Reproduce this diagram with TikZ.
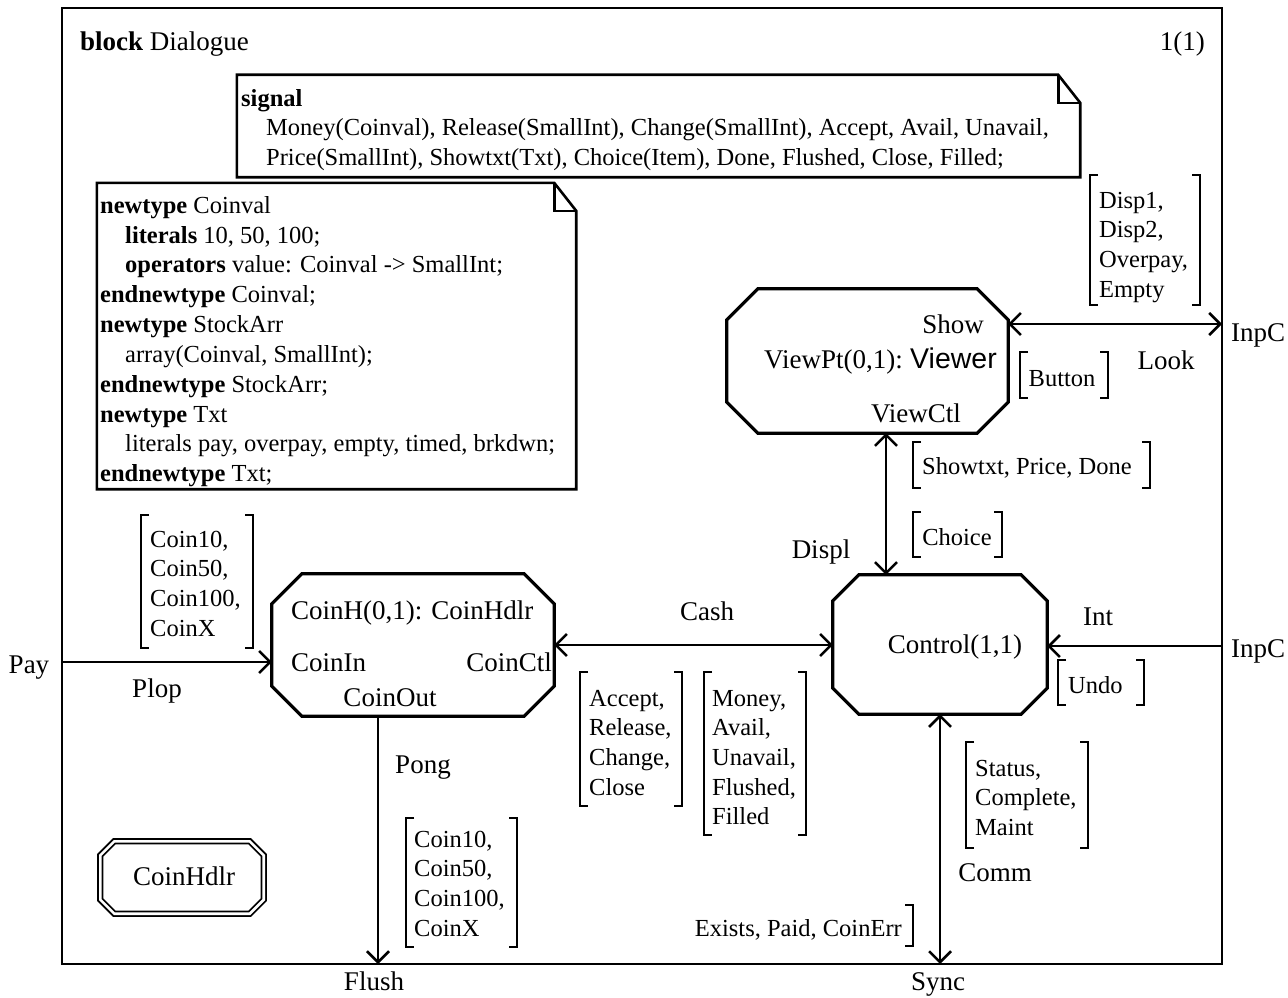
\documentclass[tikz,border=0pt]{standalone}
\usepackage{fontspec}
\setmainfont{Liberation Serif}
\newfontfamily\viewerfont{Liberation Sans}
\usetikzlibrary{arrows.meta,calc}

\tikzset{
  big/.style={font=\fontsize{27}{32}\selectfont, inner sep=0pt, text height=17.9pt, text depth=0pt},
  small/.style={font=\fontsize{24.5}{30}\selectfont, inner sep=0pt, text height=16.2pt, text depth=0pt},
  frameline/.style={line width=2.5pt},
  blockline/.style={line width=3.2pt, line join=miter},
  noteline/.style={line width=2.6pt},
  chan/.style={line width=2.5pt, >={Straight Barb[length=11pt,width=22pt,line width=2.5pt]}},
  brk/.style={line width=2.5pt},
  area/.style={draw=none, inner sep=0pt, rectangle},
}

% octagonal SDL block outline around a node: node, corner cut, style
\newcommand\sdloctagon[3]{%
  \draw[#3] ($(#1.north west)+(#2,0)$) -- ($(#1.north east)+(-#2,0)$)
    -- ($(#1.north east)+(0,#2)$) -- ($(#1.south east)+(0,-#2)$)
    -- ($(#1.south east)+(-#2,0)$) -- ($(#1.south west)+(#2,0)$)
    -- ($(#1.south west)+(0,-#2)$) -- ($(#1.north west)+(0,#2)$) -- cycle;}
% text symbol with a folded corner
\newcommand\sdlnote[1]{%
  \draw[noteline] (#1.north west) -- ($(#1.north east)+(-22,0)$)
    -- ($(#1.north east)+(0,28)$) -- (#1.south east) -- (#1.south west) -- cycle;
  \draw[noteline] ($(#1.north east)+(-22,0)$) -- ($(#1.north east)+(-22,28)$)
    -- ($(#1.north east)+(0,28)$);}
% signal list brackets: left x, top y, right x, bottom y
\newcommand\sdlLbr[3]{\draw[brk] ({#1+8},#2) -- (#1,#2) -- (#1,#3) -- ({#1+8},#3);}
\newcommand\sdlRbr[3]{\draw[brk] ({#1-8},#2) -- (#1,#2) -- (#1,#3) -- ({#1-8},#3);}
\newcommand\sdlbrackets[4]{\sdlLbr{#1}{#2}{#4}\sdlRbr{#3}{#2}{#4}}
% stacked signal names: name prefix, x, first line y, lines
\newcommand\sdllines[4]{%
  \foreach \t [count=\i] in {#4}
    \node[small,anchor=west] (#1\i) at (#2,{#3+29.7*(\i-1)}) {\t};}

\begin{document}
\begin{tikzpicture}[x=1pt,y=-1pt]
\useasboundingbox (0,0) rectangle (1288,998);
\fill[white] (0,0) rectangle (1288,998);

% block frame
\node[area, minimum width=1160pt, minimum height=956pt] (frame) at (642,486) {};
\draw[frameline] (frame.north west) rectangle (frame.south east);
\node[big,anchor=west] (title) at (80,42) {\textbf{block} Dialogue};
\node[big,anchor=east] (page) at (1205,42) {1(1)};

% signal declarations
\node[area, minimum width=843pt, minimum height=102pt] (sig) at (658.5,126) {};
\sdlnote{sig}
\node[small,anchor=west] (sigkw) at (241,98) {\textbf{signal}};
\node[small,anchor=west] (sigA) at (266,127) {Money(Coinval), Release(SmallInt), Change(SmallInt), Accept, Avail, Unavail,};
\node[small,anchor=west] (sigB) at (266,157) {Price(SmallInt), Showtxt(Txt), Choice(Item), Done, Flushed, Close, Filled;};

% data type definitions
\node[area, minimum width=479pt, minimum height=306pt] (types) at (336.5,336) {};
\sdlnote{types}
\node[small,anchor=west] (ty1) at (100,205) {\textbf{newtype} Coinval};
\node[small,anchor=west] (ty2) at (125,235) {\textbf{literals} 10, 50, 100;};
\node[small,anchor=west] (ty3) at (125,264) {\textbf{operators} value: Coinval -> SmallInt;};
\node[small,anchor=west] (ty4) at (100,294) {\textbf{endnewtype} Coinval;};
\node[small,anchor=west] (ty5) at (100,324) {\textbf{newtype} StockArr};
\node[small,anchor=west] (ty6) at (125,354) {array(Coinval, SmallInt);};
\node[small,anchor=west] (ty7) at (100,384) {\textbf{endnewtype} StockArr;};
\node[small,anchor=west] (ty8) at (100,414) {\textbf{newtype} Txt};
\node[small,anchor=west] (ty9) at (125,443) {literals pay, overpay, empty, timed, brkdwn;};
\node[small,anchor=west] (ty10) at (100,473) {\textbf{endnewtype} Txt;};

% process instances
\node[area, minimum width=281pt, minimum height=144pt] (viewer) at (867.5,361) {};
\sdloctagon{viewer}{31}{blockline}
\node[big] (vshow) at (953,325) {Show};
\node[big,anchor=west] (vname) at (764,360) {ViewPt(0,1):};
\node[font=\viewerfont\fontsize{28.5}{32}\selectfont, inner sep=0pt, text height=20.4pt, text depth=0pt, anchor=west] (vtype) at (910,358) {Viewer};
\node[big] (vctl) at (916,414) {ViewCtl};

\node[area, minimum width=214pt, minimum height=139pt] (control) at (940,644.5) {};
\sdloctagon{control}{26}{blockline}
\node[big] (cname) at (955,645) {Control(1,1)};

\node[area, minimum width=282pt, minimum height=142pt] (coinh) at (413,645) {};
\sdloctagon{coinh}{30}{blockline}
\node[big,anchor=west] (hname) at (291,611) {CoinH(0,1): CoinHdlr};
\node[big,anchor=west] (hin) at (291,663) {CoinIn};
\node[big,anchor=east] (hctl) at (552,663) {CoinCtl};
\node[big] (hout) at (390,698) {CoinOut};

% process type reference
\node[area, minimum width=163pt, minimum height=72pt] (hdlr) at (182,877.5) {};
\sdloctagon{hdlr}{14}{line width=1.8pt, double, double distance=2.6pt}
\node[big] (hdlrname) at (184,877) {CoinHdlr};

% channels
\coordinate (lookend) at (1222,324);
\draw[chan,<->] (viewer.east |- lookend) -- (lookend);
\coordinate (displx) at (886,500);
\draw[chan,<->] (viewer.south -| displx) -- (control.north -| displx);
\coordinate (intend) at (1222,646);
\draw[chan,->] (intend) -- (intend -| control.east);
\draw[chan,<->] (coinh.east) -- (coinh.east -| control.west);
\coordinate (payend) at (62,662);
\draw[chan,->] (payend) -- (payend -| coinh.west);
\coordinate (flushend) at (378,964);
\draw[chan,->] (coinh.south -| flushend) -- (flushend);
\coordinate (syncend) at (940,964);
\draw[chan,<->] (control.south -| syncend) -- (syncend);

% channel and gate names
\node[big] (inpcA) at (1258,333) {InpC};
\node[big] (look) at (1166,361) {Look};
\node[big] (displ) at (821,550) {Displ};
\node[big] (int) at (1098,617) {Int};
\node[big] (inpcB) at (1258,649) {InpC};
\node[big] (cash) at (707,612) {Cash};
\node[big] (pay) at (29,665) {Pay};
\node[big] (plop) at (157,689) {Plop};
\node[big] (pong) at (423,765) {Pong};
\node[big] (comm) at (995,873) {Comm};
\node[big] (flush) at (374,982) {Flush};
\node[big] (sync) at (938,982) {Sync};

% signal lists
\sdlbrackets{1090}{175}{1200}{305}
\sdllines{disp}{1099}{200}{{Disp1,},{Disp2,},{Overpay,},{Empty}}
\sdlbrackets{1020}{352}{1108}{398}
\node[small] (button) at (1062,378) {Button};
\sdlbrackets{913}{442}{1150}{488}
\node[small,anchor=west] (showtxt) at (922,466) {Showtxt, Price, Done};
\sdlbrackets{913}{512}{1002}{557}
\node[small] (choice) at (957,537) {Choice};
\sdlbrackets{1058}{660}{1144}{705}
\node[small,anchor=west] (undo) at (1068,685) {Undo};
\sdlbrackets{966}{742}{1088}{848}
\sdllines{stat}{975}{768}{{Status,},{Complete,},{Maint}}
\sdlRbr{913}{905}{946}
\node[small,anchor=east] (exists) at (902,928) {Exists, Paid, CoinErr};
\sdlbrackets{141}{515}{253}{648}
\sdllines{plopsig}{150}{539}{{Coin10,},{Coin50,},{Coin100,},{CoinX}}
\sdlbrackets{406}{818}{517}{947}
\sdllines{pongsig}{414}{839}{{Coin10,},{Coin50,},{Coin100,},{CoinX}}
\sdlbrackets{580}{672}{682}{806}
\sdllines{ctlsig}{589}{698}{{Accept,},{Release,},{Change,},{Close}}
\sdlbrackets{704}{672}{806}{835}
\sdllines{hsig}{712}{698}{{Money,},{Avail,},{Unavail,},{Flushed,},{Filled}}

\end{tikzpicture}
\end{document}
